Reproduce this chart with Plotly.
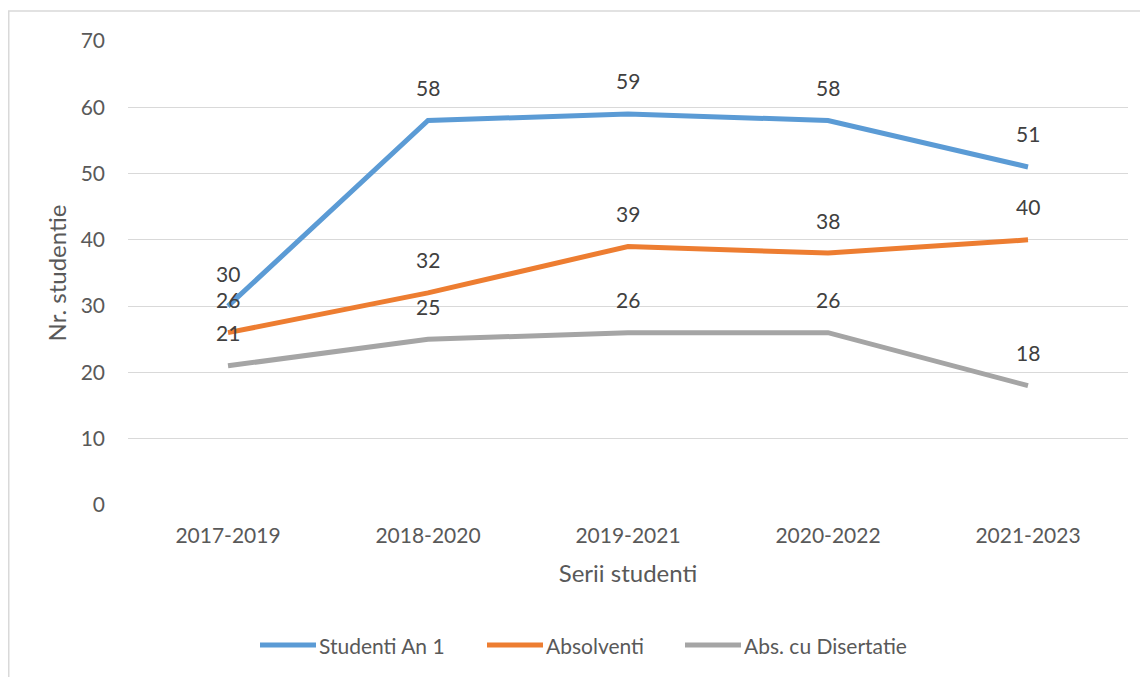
import plotly.graph_objects as go

# Serii de studenti si numarul de studenti pe categorii
serii = ["2017-2019", "2018-2020", "2019-2021", "2020-2022", "2021-2023"]
studenti_an1 = [30, 58, 59, 58, 51]
absolventi = [26, 32, 39, 38, 40]
abs_disertatie = [21, 25, 26, 26, 18]

series = [
    ("Studenti An 1", studenti_an1, "#5B9BD5"),
    ("Absolventi", absolventi, "#ED7D31"),
    ("Abs. cu Disertatie", abs_disertatie, "#A5A5A5"),
]

FONT = "Lato"
TXT = "#595959"

# zona graficului in pixeli
L, R, T, B = 120, 28, 33, 180
pw, ph = 1148 - L - R, 677 - T - B


def px(x):
    return (x - L) / pw


def py(y):
    return (677 - B - y) / ph


fig = go.Figure()

for name, vals, color in series:
    fig.add_trace(go.Scatter(
        x=serii, y=vals, name=name, mode="lines",
        line=dict(color=color, width=5), showlegend=False,
    ))
    # etichete de date deasupra punctelor
    for s, v in zip(serii, vals):
        fig.add_annotation(
            x=s, y=v, text=str(v), showarrow=False,
            yshift=33, font=dict(family=FONT, size=21, color="#404040"),
        )

# legenda desenata manual (linii lungi ca in Excel)
legend_x = [252, 479, 677]
for (name, _, color), lx in zip(series, legend_x):
    fig.add_shape(
        type="line", xref="paper", yref="paper",
        x0=px(lx), x1=px(lx + 56), y0=py(637), y1=py(637),
        line=dict(color=color, width=5),
    )
    fig.add_annotation(
        xref="paper", yref="paper", x=px(lx + 57), y=py(637),
        xanchor="left", yanchor="middle", text=name, showarrow=False,
        font=dict(family=FONT, size=21, color=TXT),
    )

# chenarul graficului
fig.add_shape(
    type="rect", xref="paper", yref="paper",
    x0=px(0.75), x1=px(1170), y0=py(700), y1=py(3),
    line=dict(color="#D9D9D9", width=1.5), layer="below",
)

fig.update_layout(
    width=1148, height=677,
    margin=dict(l=L, r=R, t=T, b=B),
    plot_bgcolor="white", paper_bgcolor="white",
    font=dict(family=FONT, size=21, color=TXT),
    showlegend=False,
    xaxis=dict(
        type="category", range=[-0.5, 4.5],
        showgrid=False, zeroline=False, showline=False,
        ticks="", ticklabelstandoff=16,
        tickfont=dict(family=FONT, size=21, color=TXT),
        title=dict(text="Serii studenti", standoff=19,
                   font=dict(family=FONT, size=24, color=TXT)),
    ),
    yaxis=dict(
        range=[0, 70], dtick=10, tick0=0,
        showgrid=True, gridcolor="#D9D9D9", gridwidth=1.3,
        zeroline=False, showline=False, ticks="",
        ticklabelstandoff=22,
        tickfont=dict(family=FONT, size=21, color=TXT),
        title=dict(text="Nr. studentie", standoff=7,
                   font=dict(family=FONT, size=24, color=TXT)),
    ),
)

fig.write_html("out.html")
